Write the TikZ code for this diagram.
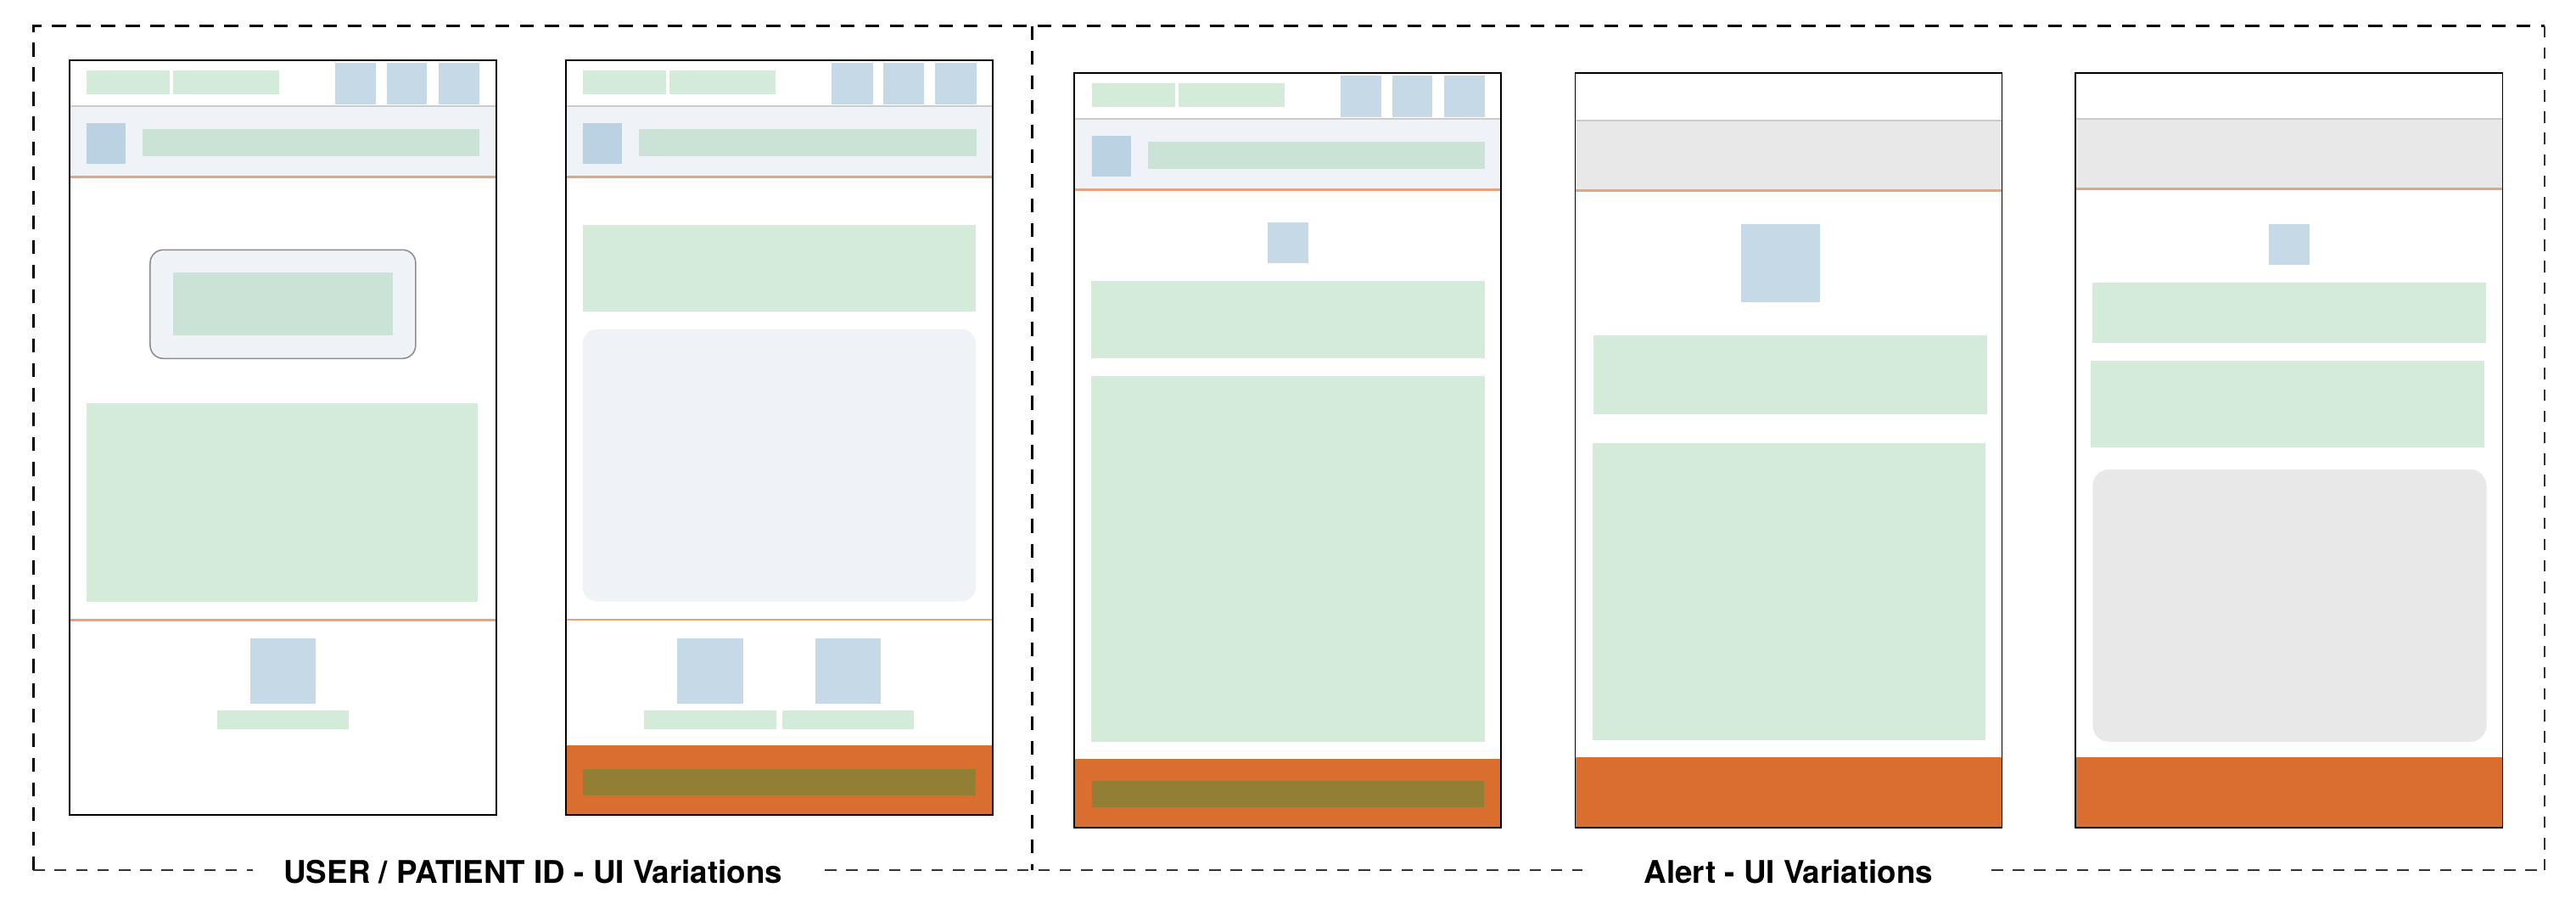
\documentclass[tikz,border=0pt]{standalone}
\usepackage{fontspec}
\setmainfont{TeX Gyre Heros}
\definecolor{uigreen}{HTML}{D5EBDA}
\definecolor{uigreendk}{HTML}{CBE2D6}
\definecolor{uiblue}{HTML}{C5DAE6}
\definecolor{uibluedk}{HTML}{BAD2E2}
\definecolor{uiband}{HTML}{EFF3F8}
\definecolor{uigray}{HTML}{E8E8E8}
\definecolor{uiorange}{HTML}{DA6E2E}
\definecolor{uiolive}{HTML}{937F34}
\definecolor{uiline}{HTML}{E4A47E}
\definecolor{uirule}{HTML}{CCCCCC}
% header of the app screens (local coordinates of one phone)
\newcommand{\appheader}{%
  \fill[greenbox] (10.5,6.3) rectangle (61.1,20.6);
  \fill[greenbox] (63.2,6.3) rectangle (127.8,20.6);
  \fill[bluebox] (161.8,1.5) rectangle (186.8,26.7);
  \fill[bluebox] (193.3,1.5) rectangle (217.8,26.7);
  \fill[bluebox] (224.8,1.5) rectangle (249.8,26.7);
  \fill[uiband] (0,27.9) rectangle (259.8,70.9);
  \draw[grayrule] (0,27.9) -- (259.8,27.9);
  \draw[orangerule] (0,70.9) -- (259.8,70.9);
  \fill[uibluedk] (10.5,38) rectangle (34.2,62.8);
  \fill[uigreendk] (44.6,42) rectangle (249.8,58.2);
}
\begin{document}
\begin{tikzpicture}[x=1pt,y=-1pt,
  phone/.style={draw=black,line width=1pt},
  greenbox/.style={fill=uigreen},
  bluebox/.style={fill=uiblue},
  footer/.style={fill=uiorange},
  grayrule/.style={draw=uirule,line width=1pt},
  orangerule/.style={draw=uiline,line width=1.5pt},
  frame/.style={dash pattern=on 8.5pt off 6.5pt,line width=1.3pt},
  thinframe/.style={dash pattern=on 7pt off 6pt,line width=0.8pt,draw=black!80},
  caption/.style={font=\bfseries\fontsize{19}{22}\selectfont,inner sep=0pt,anchor=base}]
\useasboundingbox (0,0) rectangle (1568,553.65);

% outer dashed frame
\coordinate (tl) at (20.3,15.8);
\coordinate (tr) at (1549,15.8);
\coordinate (bl) at (20.3,529.5);
\coordinate (br) at (1549,529.5);
\coordinate (dt) at (628.4,15.8);
\coordinate (db) at (628.4,529.5);
\coordinate (ua) at (154,529.5);
\coordinate (ub) at (502,529.5);
\coordinate (aa) at (963.3,529.5);
\coordinate (ab) at (1212.2,529.5);
\draw[frame] (bl) -- (tl) -- (tr);
\draw[frame] (dt) -- (db);
\draw[thinframe] (tr) -- (br);
\draw[thinframe] (bl) -- (ua);
\draw[thinframe] (ub) -- (aa);
\draw[thinframe] (ab) -- (br);
\node[caption] (userlbl) at (324.5,537.5) {USER / PATIENT ID - UI Variations};
\node[caption] (alertlbl) at (1088.7,537.5) {Alert - UI Variations};

% phone 1: user id card
\begin{scope}[shift={(42.2,36.7)}]
  \appheader
  \filldraw[fill=uiband,draw=black!45,line width=0.8pt,rounded corners=8pt] (49.2,115.3) rectangle (210.8,181.4);
  \fill[uigreendk] (63.2,129.1) rectangle (196.8,167.3);
  \fill[greenbox] (10.4,208.7) rectangle (248.8,329.3);
  \draw[orangerule] (0,340.6) -- (259.8,340.6);
  \fill[bluebox] (110.2,351.7) rectangle (150.1,391.7);
  \fill[greenbox] (90.1,395.8) rectangle (170.2,406.8);
  \draw[phone] (0,0) rectangle (259.8,459.3);
\end{scope}

% phone 2: user id with footer
\begin{scope}[shift={(344.4,36.7)}]
  \appheader
  \fill[greenbox] (10.2,100.4) rectangle (249.6,152.8);
  \fill[uiband,rounded corners=9pt] (10.2,163.5) rectangle (249.6,329.3);
  \draw[orangerule,line width=1pt] (0,340.3) -- (259.8,340.3);
  \fill[bluebox] (67.6,351.7) rectangle (107.9,391.7);
  \fill[bluebox] (152,351.7) rectangle (191.9,391.7);
  \fill[greenbox] (47.6,395.8) rectangle (128,406.8);
  \fill[greenbox] (131.9,395.8) rectangle (211.9,406.8);
  \fill[footer] (0,416.8) rectangle (259.8,459.3);
  \fill[uiolive] (10.2,431.3) rectangle (249.6,447.1);
  \draw[phone] (0,0) rectangle (259.8,459.3);
\end{scope}

% phone 3: alert with header
\begin{scope}[shift={(654,44.4)}]
  \appheader
  \fill[bluebox] (117.6,90.9) rectangle (142.2,115.6);
  \fill[greenbox] (10.3,126.4) rectangle (249.7,173.6);
  \fill[greenbox] (10.3,184.6) rectangle (249.7,406.9);
  \fill[footer] (0,417.2) rectangle (259.8,459.3);
  \fill[uiolive] (10.5,430.8) rectangle (249.4,447);
  \draw[phone] (0,0) rectangle (259.8,459.3);
\end{scope}

% phone 4: alert, plain band
\begin{scope}[shift={(958.8,44.3)}]
  \fill[uigray] (0,28.9) rectangle (259.8,71.7);
  \draw[grayrule] (0,28.9) -- (259.8,28.9);
  \draw[orangerule] (0,71.7) -- (259.8,71.7);
  \fill[bluebox] (101.2,92.1) rectangle (148.9,139.6);
  \fill[greenbox] (11.3,159.9) rectangle (250.5,207.6);
  \fill[greenbox] (10.6,225.2) rectangle (249.9,406.1);
  \fill[footer] (0,416.6) rectangle (259.8,459.3);
  \draw[phone] (0,0) rectangle (259.8,459.3);
\end{scope}

% phone 5: alert with panel
\begin{scope}[shift={(1263.5,44.3)}]
  \fill[uigray] (0,28) rectangle (259.8,70.7);
  \draw[grayrule] (0,28) -- (259.8,28);
  \draw[orangerule] (0,70.7) -- (259.8,70.7);
  \fill[bluebox] (117.7,92.1) rectangle (142.3,116.7);
  \fill[greenbox] (10.3,127.5) rectangle (249.5,164.5);
  \fill[greenbox] (9.1,175.2) rectangle (248.5,227.7);
  \fill[uigray,rounded corners=10pt] (10.3,241.3) rectangle (250,407);
  \fill[footer] (0,416.6) rectangle (259.8,459.3);
  \draw[phone] (0,0) rectangle (259.8,459.3);
\end{scope}
\end{tikzpicture}
\end{document}
